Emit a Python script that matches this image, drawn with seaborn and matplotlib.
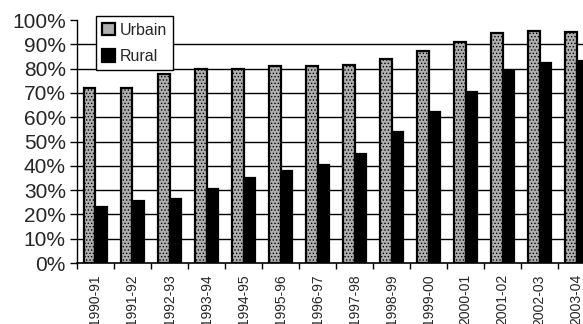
import numpy as np
import pandas as pd
import matplotlib
matplotlib.use('Agg')
import matplotlib.pyplot as plt
import seaborn as sns

years = ['1990-91', '1991-92', '1992-93', '1993-94', '1994-95', '1995-96', '1996-97',
         '1997-98', '1998-99', '1999-00', '2000-01', '2001-02', '2002-03', '2003-04']
urbain = [72, 72, 78, 80, 80, 81, 81, 81.7, 84, 87.2, 91, 94.8, 95.6, 95]
rural = [23, 25.6, 26.2, 30.4, 35, 38, 40.3, 44.9, 54, 62, 70.5, 79, 82.4, 83]

df = pd.DataFrame({
    'Annee': years * 2,
    'Zone': ['Urbain'] * len(years) + ['Rural'] * len(years),
    'Taux': np.array(urbain + rural) / 100,
})

sns.set_style('white')
plt.rcParams['font.family'] = ['Liberation Sans', 'DejaVu Sans']
plt.rcParams['hatch.color'] = '#505050'
plt.rcParams['hatch.linewidth'] = 0.6

fig = plt.figure(figsize=(5.83, 3.24), dpi=100)
ax = fig.add_axes([0.132, 0.188, 0.889, 0.75])

sns.barplot(data=df, x='Annee', y='Taux', hue='Zone', ax=ax,
            palette={'Urbain': '#b0b0b0', 'Rural': '#000000'},
            width=0.62, edgecolor='black', linewidth=1.6, saturation=1)

# stippled look for the urban bars
for bar in ax.containers[0]:
    bar.set_hatch('.....')

ax.set_ylim(0, 1)
ax.set_xlim(-0.5, len(years) - 0.5)
for y in np.arange(0.1, 0.95, 0.1):
    ax.axhline(y, color='black', lw=1, zorder=0)

ax.set_yticks(np.arange(0, 1.01, 0.1))
ax.set_yticklabels([f'{int(round(v * 100))}%' for v in np.arange(0, 1.01, 0.1)], fontsize=15)
ax.tick_params(axis='y', length=5, width=1, color='black', direction='out', pad=3, left=True)

ax.set_xticks(range(len(years)))
ax.set_xticklabels(years, rotation=90, fontsize=10)
ax.tick_params(axis='x', which='major', length=0, pad=8)
ax.set_xticks(np.arange(-0.5, len(years), 1), minor=True)
ax.tick_params(axis='x', which='minor', length=4, width=1, color='black', direction='out', bottom=True)

ax.set_xlabel('')
ax.set_ylabel('')
for s in ['top', 'right']:
    ax.spines[s].set_visible(False)
ax.spines['left'].set_color('black')
ax.spines['bottom'].set_color('black')
ax.spines['left'].set_linewidth(1)
ax.spines['bottom'].set_linewidth(1.2)

leg = ax.legend(loc='upper left', bbox_to_anchor=(0.036, 1.015), fontsize=11.5,
                frameon=True, fancybox=False, edgecolor='black', framealpha=1,
                handlelength=0.8, handleheight=0.8, handletextpad=0.3,
                borderpad=0.4, labelspacing=0.7, borderaxespad=0)
leg.get_frame().set_linewidth(1)

fig.savefig('out.png', dpi=100)
